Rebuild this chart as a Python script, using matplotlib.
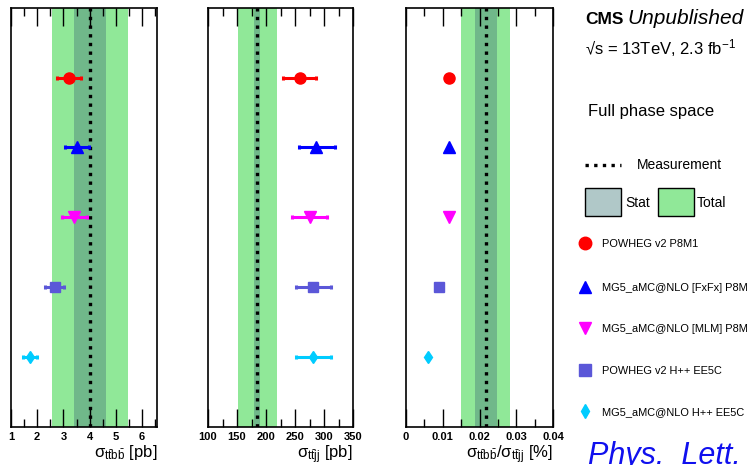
import matplotlib
matplotlib.use('Agg')
import matplotlib.pyplot as plt
from matplotlib.patches import Rectangle
import numpy as np

plt.rcParams['font.family'] = ['Liberation Sans', 'DejaVu Sans']
plt.rcParams['mathtext.fontset'] = 'custom'
plt.rcParams['mathtext.rm'] = 'Liberation Sans'
plt.rcParams['mathtext.it'] = 'Liberation Sans:italic'

# generators, top to bottom
models = ['POWHEG v2 P8M1', 'MG5_aMC@NLO [FxFx] P8M', 'MG5_aMC@NLO [MLM] P8M',
          'POWHEG v2 H++ EE5C', 'MG5_aMC@NLO H++ EE5C']
colors = ['#ff0000', '#0000ff', '#ff00ff', '#5b57d8', '#00ccff']
markers = ['o', '^', 'v', 's', 'd']
msizes = [8, 8, 8, 7, 6]

# sigma ttbb [pb]
ttbb_val = [3.21, 3.52, 3.42, 2.68, 1.73]
ttbb_lo = [2.77, 3.07, 2.96, 2.31, 1.47]
ttbb_hi = [3.67, 3.97, 3.89, 3.02, 1.98]
ttbb_meas = 4.0
ttbb_stat = (3.40, 4.63)
ttbb_tot = (2.56, 5.47)

# sigma ttjj [pb]
ttjj_val = [258, 287, 275, 281, 281]
ttjj_lo = [230, 257, 245, 251, 251]
ttjj_hi = [287, 319.5, 305.5, 311.5, 311.5]
ttjj_meas = 185
ttjj_stat = (180, 190)
ttjj_tot = (151.5, 219)

# ratio [%]
ratio_val = [0.0118, 0.0118, 0.0118, 0.0090, 0.0059]
ratio_meas = 0.0217
ratio_stat = (0.0188, 0.0248)
ratio_tot = (0.0150, 0.0283)

ypos = [5, 4, 3, 2, 1]

c_tot = '#90e898'
c_stat = '#70b88a'
c_stat_leg = '#b0c8c8'

fig = plt.figure(figsize=(7.54, 4.65), dpi=100)
W, H = 754.0, 465.0
bot = (H - 426.7) / H
hgt = 419.0 / H


def panel(x0, x1, xlim, major, minor, meas, stat, tot, vals, lo=None, hi=None, label=''):
    ax = fig.add_axes([x0 / W, bot, (x1 - x0) / W, hgt])
    ax.axvspan(tot[0], tot[1], color=c_tot, lw=0, zorder=0)
    ax.axvspan(stat[0], stat[1], color=c_stat, lw=0, zorder=1)
    ax.axvline(meas, color='black', lw=2.4, linestyle=(0, (1.0, 1.6)), zorder=2)
    for i in range(len(vals)):
        if lo is not None:
            ax.errorbar(vals[i], ypos[i], xerr=[[vals[i] - lo[i]], [hi[i] - vals[i]]],
                        fmt=markers[i], color=colors[i], ms=msizes[i], elinewidth=2.2,
                        capsize=1.5, capthick=2.2, zorder=3)
        else:
            ax.plot(vals[i], ypos[i], markers[i], color=colors[i], ms=msizes[i], zorder=3)
    ax.set_xlim(*xlim)
    ax.set_ylim(0, 6)
    ax.set_yticks([])
    ax.set_xticks(major)
    ax.set_xticks(minor, minor=True)
    ax.tick_params(axis='x', which='major', direction='in', length=13, width=1,
                   top=True, labelsize=8, pad=4)
    ax.tick_params(axis='x', which='minor', direction='in', length=6, width=1, top=True)
    for lab in ax.get_xticklabels():
        lab.set_fontweight('bold')
    for s in ax.spines.values():
        s.set_linewidth(1.2)
    ax.text(1.0, -0.04, label, transform=ax.transAxes, ha='right', va='top', fontsize=12)
    return ax


panel(11, 157, (1, 6.57), np.arange(1, 7, 1), np.arange(1.5, 6.6, 1.0),
      ttbb_meas, ttbb_stat, ttbb_tot, ttbb_val, ttbb_lo, ttbb_hi,
      '\u03c3$_{\\mathrm{t\\bar{t}b\\bar{b}}}$ [pb]')
panel(208, 353, (100, 350), np.arange(100, 351, 50), np.arange(125, 350, 50),
      ttjj_meas, ttjj_stat, ttjj_tot, ttjj_val, ttjj_lo, ttjj_hi,
      '\u03c3$_{\\mathrm{t\\bar{t}jj}}$ [pb]')
ax3 = panel(406, 553, (0, 0.04), [0, 0.01, 0.02, 0.03, 0.04],
            [0.005, 0.015, 0.025, 0.035],
            ratio_meas, ratio_stat, ratio_tot, ratio_val, None, None,
            '\u03c3$_{\\mathrm{t\\bar{t}b\\bar{b}}}$/\u03c3$_{\\mathrm{t\\bar{t}jj}}$ [%]')
ax3.set_xticklabels(['0', '0.01', '0.02', '0.03', '0.04'], fontweight='bold')

# legend area in pixel coordinates
lg = fig.add_axes([0, 0, 1, 1], facecolor='none')
lg.set_xlim(0, W)
lg.set_ylim(H, 0)
lg.axis('off')

lg.text(585, 20, 'CMS', fontsize=12.5, fontweight='bold', va='center')
lg.text(627, 19, 'Unpublished', fontsize=15, style='italic', va='center')
lg.text(585, 48, '\u221as = 13TeV, 2.3 fb$^{\\mathregular{-1}}$', fontsize=12, va='center')
lg.text(588, 111, 'Full phase space', fontsize=12, va='center')

lg.plot([585, 621], [165, 165], color='black', lw=2.4, linestyle=(0, (1.0, 1.6)))
lg.text(637, 165, 'Measurement', fontsize=10, va='center')
lg.add_patch(Rectangle((585, 188), 36, 28, facecolor=c_stat_leg, edgecolor='black', lw=1))
lg.text(625, 203, 'Stat', fontsize=10, va='center')
lg.add_patch(Rectangle((658, 188), 36, 28, facecolor=c_tot, edgecolor='black', lw=1))
lg.text(697, 203, 'Total', fontsize=10, va='center')

leg_y = [243, 287, 328, 370, 411]
for i in range(len(models)):
    lg.plot(585, leg_y[i], markers[i], color=colors[i], ms=msizes[i] + 1)
    lg.text(602, leg_y[i] + 1, models[i], fontsize=7.9, va='center')

lg.text(588, 456, 'Phys.  Lett.  B', fontsize=22, style='italic', color='#1010ee', va='center')

fig.savefig('out.png', dpi=100)
